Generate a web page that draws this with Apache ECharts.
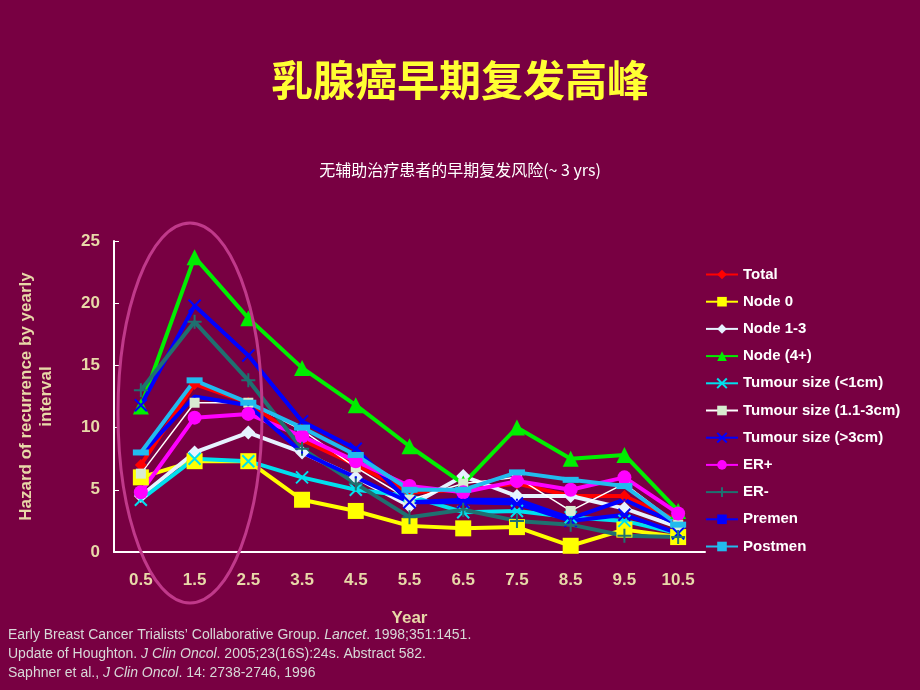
<!DOCTYPE html><html><head><meta charset="utf-8"><script src="https://cdn.jsdelivr.net/npm/echarts@6/dist/echarts.min.js"></script>
<style>html,body{margin:0;background:#780042}#c{width:920px;height:690px}</style></head><body><div id="c"></div><script>
var years=['0.5','1.5','2.5','3.5','4.5','5.5','6.5','7.5','8.5','9.5','10.5'];
var yTicks=[0,5,10,15,20,25];
var total=[7.0,13.5,12.0,9.0,7.0,4.8,5.0,5.5,4.5,4.5,2.5];
var node0=[6.0,7.3,7.3,4.2,3.3,2.1,1.9,2.0,0.5,1.8,1.2];
var node13=[4.5,8.0,9.6,8.0,6.0,3.7,6.1,4.5,4.5,3.5,2.0];
var node4=[11.7,23.7,18.8,14.8,11.8,8.5,5.5,10.0,7.5,7.8,3.3];
var ts1=[4.2,7.5,7.3,6.0,5.0,4.5,3.2,3.3,2.8,2.5,1.5];
var ts2=[6.3,12.0,12.0,9.8,6.8,4.2,5.5,6.0,3.3,5.5,2.2];
var ts3=[11.8,19.8,15.8,10.5,8.3,4.0,4.0,3.9,2.5,3.0,1.5];
var erp=[4.8,10.8,11.1,9.3,7.3,5.3,4.8,5.7,5.0,6.0,3.1];
var ern=[13.0,18.5,13.8,8.3,5.5,2.8,3.4,2.5,2.2,1.3,1.2];
var premen=[7.8,12.5,11.8,8.0,6.0,4.0,4.2,4.2,2.7,4.2,2.2];
var postmen=[8.0,13.8,12.0,10.0,7.8,5.0,5.0,6.4,5.8,5.3,2.2];
var X='path://M0,0L10,10M10,0L0,10Z';
var P='path://M5,0L5,10M0,5L10,5Z';
function s(name,data,color,sym,size,w,extra){var o={name:name,type:'line',data:data,symbol:sym,symbolSize:size,
 lineStyle:{color:color,width:w},itemStyle:{color:color,borderColor:color,borderWidth:(sym===X||sym===P)?2:0}};
 return Object.assign(o,extra||{});}
var series=[
 s('Total',total,'#ff0000','diamond',12,4),
 s('Node 0',node0,'#ffff00','rect',16,4),
 s('Node 1-3',node13,'#e6f2ff','diamond',14,4),
 s('Node (4+)',node4,'#00ee00','triangle',16,4),
 s('Tumour size (<1cm)',ts1,'#00e0ee',X,12,4),
 s('Tumour size (1.1-3cm)',ts2,'#ffffff','rect',10,1.5,{itemStyle:{color:'#d8ecd0'}}),
 s('Tumour size (>3cm)',ts3,'#0000ff',X,12,4),
 s('ER+',erp,'#ff00ff','circle',14,4),
 s('ER-',ern,'#1f7070',P,14,4),
 s('Premen',premen,'#0000ff','rect',2,4),
 s('Postmen',postmen,'#22bbee','rect',[16,6],4)
];
var c=echarts.init(document.getElementById('c'));
c.setOption({backgroundColor:'#780042',animation:false,
 title:[{text:'乳腺癌早期复发高峰',left:'center',top:54,textStyle:{color:'#ffff33',fontSize:42,fontWeight:'bold',fontFamily:'Noto Sans CJK SC'}},
  {text:'无辅助治疗患者的早期复发风险(~ 3 yrs)',left:'center',top:157,textStyle:{color:'#ffffff',fontSize:16,fontWeight:'normal',fontFamily:'Noto Sans CJK SC'}}],
 legend:{orient:'vertical',left:700,top:262,itemGap:12.2,itemWidth:32,itemHeight:12,data:series.map(function(x){return x.name}),
  textStyle:{color:'#ffffff',fontSize:15,fontWeight:'bold',fontFamily:'Liberation Sans'}},
 grid:{left:114,width:591,top:241,height:311},
 xAxis:{type:'category',data:years,name:'Year',nameLocation:'middle',nameGap:58,
  nameTextStyle:{color:'#e8d8a8',fontSize:17,fontWeight:'bold',fontFamily:'Liberation Sans'},
  axisLine:{lineStyle:{color:'#ffffff',width:2}},axisTick:{lineStyle:{color:'#ffffff'},length:6},
  axisLabel:{color:'#e8d8a8',fontSize:17,fontWeight:'bold',fontFamily:'Liberation Sans',margin:20}},
 yAxis:{type:'value',min:0,max:25,interval:5,name:'Hazard of recurrence by yearly\ninterval',nameLocation:'middle',nameGap:58,nameRotate:90,
  nameTextStyle:{color:'#e8d8a8',fontSize:17,fontWeight:'bold',fontFamily:'Liberation Sans',lineHeight:20},
  axisLine:{show:true,lineStyle:{color:'#ffffff',width:2}},axisTick:{show:true,inside:true,lineStyle:{color:'#ffffff'}},splitLine:{show:false},
  axisLabel:{color:'#e8d8a8',fontSize:17,fontWeight:'bold',fontFamily:'Liberation Sans',margin:14}},
 series:series,
 graphic:[{type:'ellipse',shape:{cx:190,cy:413,rx:72,ry:190},style:{fill:null,stroke:'#c0398a',lineWidth:3},z:100},
  {type:'text',left:8,top:628,style:{text:'{n|Early Breast Cancer Trialists\u2019 Collaborative Group. }{i|Lancet}{n|. 1998;351:1451.}\n{n|Update of Houghton. }{i|J Clin Oncol}{n|. 2005;23(16S):24s. Abstract 582.}\n{n|Saphner et al., }{i|J Clin Oncol}{n|. 14: 2738-2746, 1996}',
   rich:{n:{fill:'#d8d8d8',fontSize:14,fontFamily:'Liberation Sans',lineHeight:19},i:{fill:'#d8d8d8',fontSize:14,fontStyle:'italic',fontFamily:'Liberation Sans',lineHeight:19}}}}]
});
</script></body></html>
